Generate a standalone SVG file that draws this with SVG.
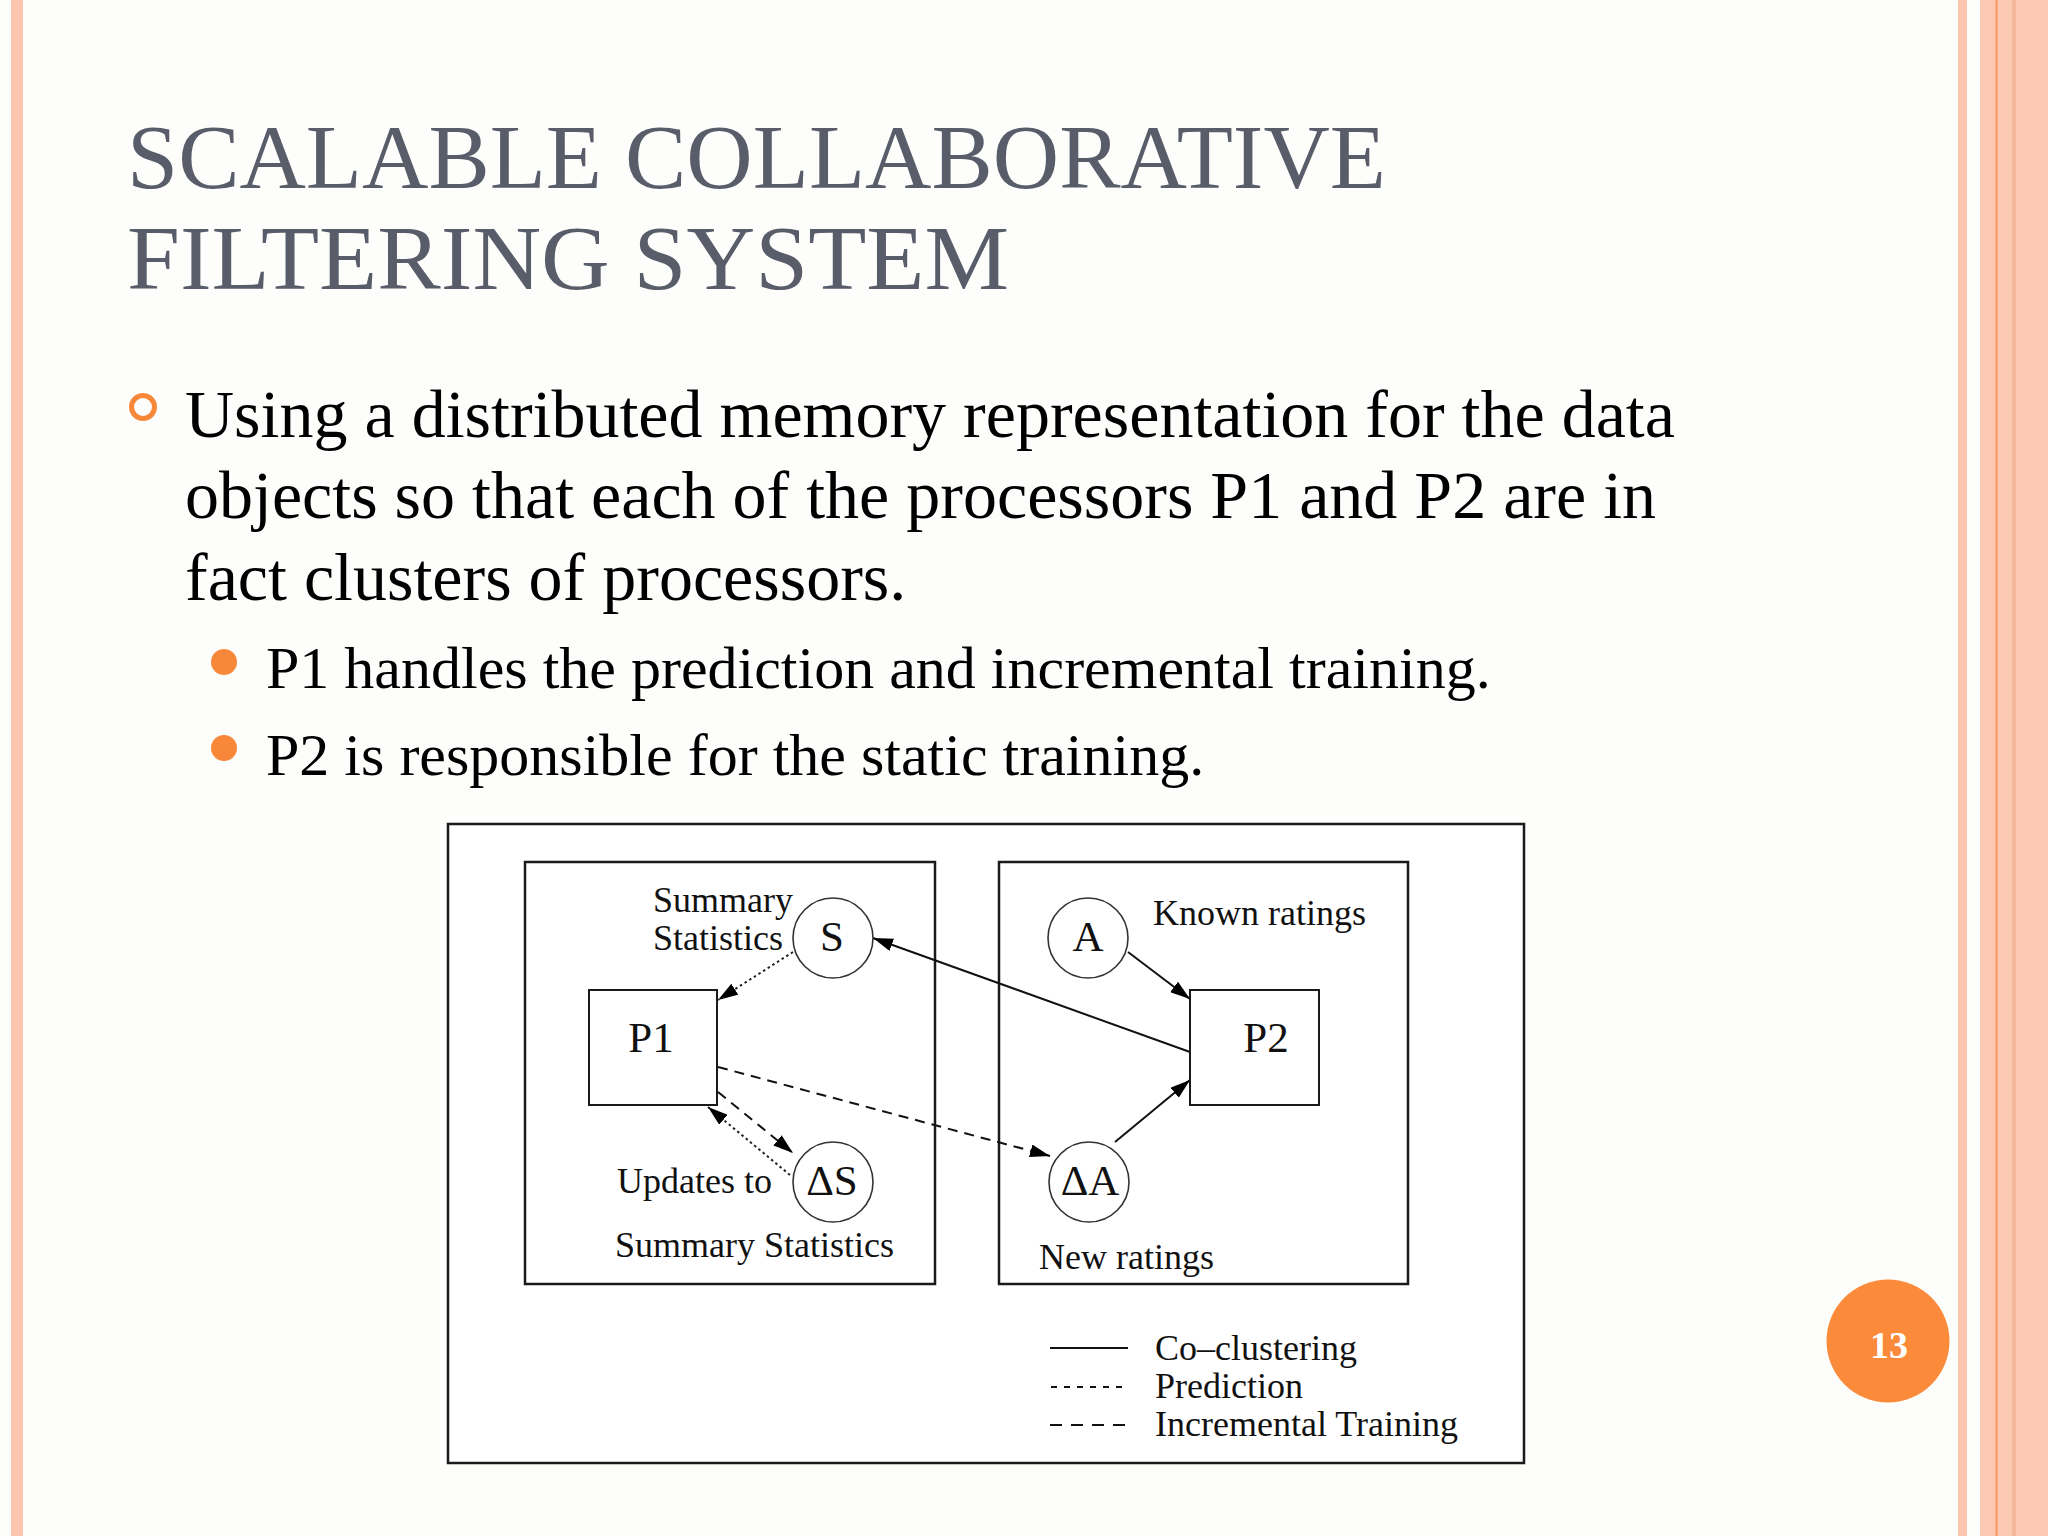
<svg xmlns="http://www.w3.org/2000/svg" width="2048" height="1536" viewBox="0 0 2048 1536">
<style>
.title{font-family:"Liberation Serif","Times New Roman",serif;font-size:92px;fill:#585d69}
.body{font-family:"Liberation Serif","Times New Roman",serif;fill:#000}
.lbl{font-family:"Liberation Serif","Times New Roman",serif;font-size:36px;fill:#111}
.big{font-family:"Liberation Serif","Times New Roman",serif;font-size:43px;fill:#111}
.box{fill:none;stroke:#1a1a1a;stroke-width:2.5}
.node{fill:#fff;stroke:#1a1a1a;stroke-width:2}
.circ{fill:none;stroke:#333;stroke-width:1.6}
.solid{fill:none;stroke:#111;stroke-width:2}
.dot{fill:none;stroke:#222;stroke-width:2;stroke-dasharray:2.5 3}
.dash{fill:none;stroke:#111;stroke-width:2;stroke-dasharray:10 7}
</style>
<defs>
<marker id="ah" markerUnits="userSpaceOnUse" markerWidth="20" markerHeight="13" refX="20" refY="6.5" orient="auto">
<path d="M0,0 L20,6.5 L0,13 z" fill="#000"/>
</marker>
</defs>
<rect width="2048" height="1536" fill="#fdfdfc"/>
<g id="frame">
<rect x="11" y="0" width="12" height="1536" fill="#fbc5ae"/>
<rect x="1958" y="0" width="9" height="1536" fill="#fbc5ae"/>
<rect x="1980" y="0" width="68" height="1536" fill="#fccab3"/>
<rect x="1995.5" y="0" width="2" height="1536" fill="#f8955f"/>
<rect x="2012" y="0" width="4" height="1536" fill="#f5b79c"/>
</g>
<g id="title">
<text class="title" x="127" y="188" textLength="1259" lengthAdjust="spacingAndGlyphs">SCALABLE COLLABORATIVE</text>
<text class="title" x="127" y="289" textLength="882" lengthAdjust="spacingAndGlyphs">FILTERING SYSTEM</text>
</g>
<g id="bullets">
<circle cx="143" cy="407" r="11.5" fill="none" stroke="#f7883a" stroke-width="5"/>
<text class="body" font-size="68" x="185" y="437">Using a distributed memory representation for the data</text>
<text class="body" font-size="68" x="185" y="518">objects so that each of the processors P1 and P2 are in</text>
<text class="body" font-size="68" x="185" y="600">fact clusters of processors.</text>
<circle cx="224" cy="662" r="13" fill="#f7883a"/>
<text class="body" font-size="60" x="266" y="688">P1 handles the prediction and incremental training.</text>
<circle cx="224" cy="748" r="13" fill="#f7883a"/>
<text class="body" font-size="60" x="266" y="775">P2 is responsible for the static training.</text>
</g>
<g id="diagram">
<rect x="448" y="824" width="1076" height="639" fill="#fff" stroke="#1a1a1a" stroke-width="2.5"/>
<rect class="box" x="525" y="862" width="410" height="422"/>
<rect class="box" x="999" y="862" width="409" height="422"/>
</g>
<g id="connectors">
<line class="dot" x1="793" y1="952" x2="718" y2="1000" marker-end="url(#ah)"/>
<line class="solid" x1="1190" y1="1052" x2="873" y2="938" marker-end="url(#ah)"/>
<line class="solid" x1="1128" y1="952" x2="1190" y2="999" marker-end="url(#ah)"/>
<line class="solid" x1="1115" y1="1142" x2="1190" y2="1080" marker-end="url(#ah)"/>
<line class="dash" x1="718" y1="1067" x2="1050" y2="1156" marker-end="url(#ah)"/>
<line class="dash" x1="718" y1="1092" x2="793" y2="1153" marker-end="url(#ah)"/>
<line class="dot" x1="790" y1="1175" x2="708" y2="1107" marker-end="url(#ah)"/>
</g>
<g id="node-S">
<circle class="circ" cx="833" cy="938" r="40"/>
<text class="big" x="832" y="951" text-anchor="middle">S</text>
<text class="lbl" x="653" y="912">Summary</text>
<text class="lbl" x="653" y="950">Statistics</text>
</g>
<g id="node-P1">
<rect class="node" x="589" y="990" width="128" height="115"/>
<text class="big" x="651" y="1052" text-anchor="middle">P1</text>
</g>
<g id="node-dS">
<circle class="circ" cx="833" cy="1182" r="40"/>
<text class="big" x="832" y="1195" text-anchor="middle">ΔS</text>
<text class="lbl" x="617" y="1193">Updates to</text>
<text class="lbl" x="615" y="1257">Summary Statistics</text>
</g>
<g id="node-A">
<circle class="circ" cx="1088" cy="938" r="40"/>
<text class="big" x="1088" y="951" text-anchor="middle">A</text>
<text class="lbl" x="1153" y="925">Known ratings</text>
</g>
<g id="node-P2">
<rect class="node" x="1190" y="990" width="129" height="115"/>
<text class="big" x="1266" y="1052" text-anchor="middle">P2</text>
</g>
<g id="node-dA">
<circle class="circ" cx="1089" cy="1182" r="40"/>
<text class="big" x="1090" y="1195" text-anchor="middle">ΔA</text>
<text class="lbl" x="1039" y="1269">New ratings</text>
</g>
<g id="legend">
<line class="solid" x1="1050" y1="1348" x2="1128" y2="1348"/>
<line x1="1051" y1="1387" x2="1124" y2="1387" stroke="#111" stroke-width="2" stroke-dasharray="6 7"/>
<line x1="1050" y1="1425" x2="1126" y2="1425" stroke="#111" stroke-width="2" stroke-dasharray="12 9"/>
<text class="lbl" x="1155" y="1360">Co–clustering</text>
<text class="lbl" x="1155" y="1398">Prediction</text>
<text class="lbl" x="1155" y="1436">Incremental Training</text>
</g>
<g id="page-number">
<circle cx="1888" cy="1341" r="61.5" fill="#fb8a3a"/>
<text x="1889" y="1358" text-anchor="middle" font-family="Liberation Serif, serif" font-weight="bold" font-size="38" fill="#fff">13</text>
</g>
</svg>
